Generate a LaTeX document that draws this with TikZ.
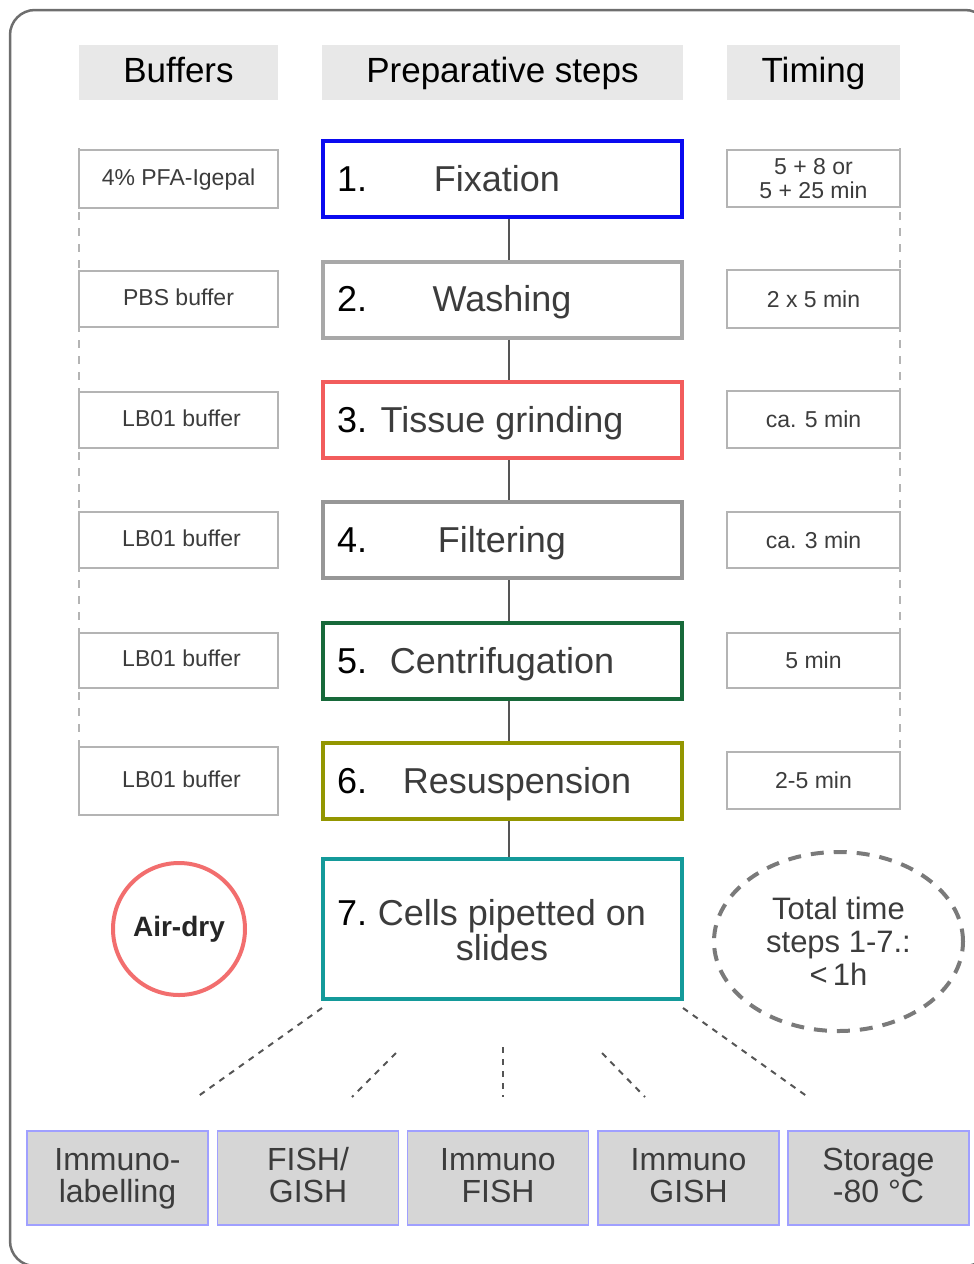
\documentclass[tikz,border=0pt]{standalone}
\usepackage{fontspec}
\setmainfont{Liberation Sans}
\usetikzlibrary{shapes.geometric}
\definecolor{framegray}{HTML}{6E6E6E}
\definecolor{hdrfill}{HTML}{E8E8E8}
\definecolor{bufline}{HTML}{B4B4B4}
\definecolor{cblue}{HTML}{0A0AF0}
\definecolor{cgrayA}{HTML}{A8A8A8}
\definecolor{cred}{HTML}{F25C5C}
\definecolor{cgrayB}{HTML}{979797}
\definecolor{cgreen}{HTML}{17693A}
\definecolor{colive}{HTML}{939600}
\definecolor{cteal}{HTML}{149A9A}
\definecolor{airred}{HTML}{F26E6E}
\definecolor{ellgray}{HTML}{7A7A7A}
\definecolor{outfill}{HTML}{D6D6D6}
\definecolor{outline}{HTML}{A0A0FF}
\definecolor{txtgray}{HTML}{3C3C3C}
\definecolor{conngray}{HTML}{555555}
\begin{document}
\begin{tikzpicture}[x=1pt,y=-1pt,
  frame/.style={draw=framegray,line width=2.5pt,rounded corners=25pt},
  hdr/.style={fill=hdrfill,minimum height=55pt,inner sep=0pt,text height=26pt,text depth=7pt,font=\fontsize{35}{40}\selectfont,text=black},
  bufbox/.style={draw=bufline,line width=1.5pt,minimum width=199pt,inner sep=0pt,text height=17pt,text depth=5pt,font=\fontsize{23}{25}\selectfont,text=txtgray},
  timebox/.style={draw=bufline,line width=1.5pt,minimum width=173pt,inner sep=0pt,font=\fontsize{23}{24}\selectfont,text=txtgray,align=center},
  stepbox/.style={draw=#1,line width=4pt,minimum width=359pt,minimum height=76pt,inner sep=0pt},
  steptext/.style={font=\fontsize{36}{36}\selectfont,text=txtgray,inner sep=0pt,anchor=base},
  stepnum/.style={font=\fontsize{36}{36}\selectfont,text=black,inner sep=0pt,anchor=base west},
  conn/.style={draw=conngray,line width=2.5pt},
  sidedash/.style={draw=bufline,line width=1.2pt,dash pattern=on 8pt off 8pt},
  dashline/.style={draw=conngray,line width=2pt,dash pattern=on 6pt off 6pt},
  outbox/.style={fill=outfill,draw=outline,line width=1.5pt,minimum width=181pt,minimum height=94pt,inner sep=0pt,align=center,font=\fontsize{32}{32}\selectfont,text=txtgray}
]
\useasboundingbox (0,0) rectangle (974,1264);
\draw[frame] (10,10) rectangle (990,1266);

% headers
\node[hdr,minimum width=199pt] (hb) at (178.5,72.5) {Buffers};
\node[hdr,minimum width=361pt] (hp) at (502.5,72.5) {Preparative steps};
\node[hdr,minimum width=173pt] (ht) at (813.5,72.5) {Timing};

% side dashed lines
\coordinate (la) at (79,148);
\coordinate (lb) at (79,815);
\coordinate (ra) at (900,148);
\coordinate (rb) at (900,810);
\draw[sidedash] (la) -- (lb);
\draw[sidedash] (ra) -- (rb);

% buffers
\node[bufbox,minimum height=58pt,fill=white] (b1) at (178.5,179) {4\% PFA-Igepal};
\node[bufbox,minimum height=56pt,fill=white] (b2) at (178.5,299) {PBS buffer};
\node[bufbox,minimum height=56pt,fill=white] (b3) at (178.5,420) {\hspace*{6pt}LB01 buffer};
\node[bufbox,minimum height=56pt,fill=white] (b4) at (178.5,540) {\hspace*{6pt}LB01 buffer};
\node[bufbox,minimum height=55pt,fill=white] (b5) at (178.5,660.5) {\hspace*{6pt}LB01 buffer};
\node[bufbox,minimum height=68pt,fill=white] (b6) at (178.5,781) {\hspace*{6pt}LB01 buffer};

% timing
\node[timebox,minimum height=57pt,fill=white] (tm1) at (813.5,178.5) {5 + 8 or\\5 + 25 min};
\node[timebox,minimum height=58pt,fill=white] (tm2) at (813.5,299) {2 x 5 min};
\node[timebox,minimum height=57pt,fill=white] (tm3) at (813.5,419.5) {ca. 5 min};
\node[timebox,minimum height=56pt,fill=white] (tm4) at (813.5,540) {ca. 3 min};
\node[timebox,minimum height=55pt,fill=white] (tm5) at (813.5,660.5) {5 min};
\node[timebox,minimum height=57pt,fill=white] (tm6) at (813.5,780.5) {2-5 min};

% step boxes
\node[stepbox=cblue] (s1) at (502.5,179) {};
\node[stepbox=cgrayA] (s2) at (502.5,299.5) {};
\node[stepbox=cred] (s3) at (502.5,420) {};
\node[stepbox=cgrayB] (s4) at (502.5,540) {};
\node[stepbox=cgreen] (s5) at (502.5,661) {};
\node[stepbox=colive] (s6) at (502.5,781) {};
\node[stepbox=cteal,minimum height=140pt] (s7) at (502.5,929) {};

% step texts
\node[stepnum] (n1) at (337,191) {1.};
\node[steptext] (x1) at (497,191) {Fixation};
\node[stepnum] (n2) at (337,311.5) {2.};
\node[steptext] (x2) at (502,311.5) {Washing};
\node[stepnum] (n3) at (337,432) {3.};
\node[steptext] (x3) at (502,432) {Tissue grinding};
\node[stepnum] (n4) at (337,552) {4.};
\node[steptext] (x4) at (502,552) {Filtering};
\node[stepnum] (n5) at (337,673) {5.};
\node[steptext] (x5) at (502,673) {Centrifugation};
\node[stepnum] (n6) at (337,793) {6.};
\node[steptext] (x6) at (517,793) {Resuspension};
\node[stepnum] (n7) at (337,925) {7.};
\node[steptext] (x7a) at (512,925) {Cells pipetted on};
\node[steptext] (x7b) at (502,960) {slides};

% connectors between steps
\draw[conn] ([xshift=6.5pt]s1.south) -- ([xshift=6.5pt]s2.north);
\draw[conn] ([xshift=6.5pt]s2.south) -- ([xshift=6.5pt]s3.north);
\draw[conn] ([xshift=6.5pt]s3.south) -- ([xshift=6.5pt]s4.north);
\draw[conn] ([xshift=6.5pt]s4.south) -- ([xshift=6.5pt]s5.north);
\draw[conn] ([xshift=6.5pt]s5.south) -- ([xshift=6.5pt]s6.north);
\draw[conn] ([xshift=6.5pt]s6.south) -- ([xshift=6.5pt]s7.north);

% air-dry and total time
\node[circle,draw=airred,line width=4pt,minimum size=132pt,inner sep=0pt,font=\bfseries\fontsize{28}{30}\selectfont,text=black!85] (air) at (179,929) {Air-dry};
\node[ellipse,draw=ellgray,line width=4pt,dash pattern=on 13pt off 10pt,minimum width=249pt,minimum height=179pt,inner sep=0pt,align=center,font=\fontsize{31}{33}\selectfont,text=txtgray] (tot) at (838.5,941.5) {Total time\\steps 1-7.:\\\textless\,1h};

% dashed fan lines
\coordinate (d1a) at (322,1008);
\coordinate (d1b) at (197,1097);
\coordinate (d2a) at (396,1053);
\coordinate (d2b) at (352,1097);
\coordinate (d3a) at (503,1047);
\coordinate (d3b) at (503,1097);
\coordinate (d4a) at (602,1053);
\coordinate (d4b) at (645,1097);
\coordinate (d5a) at (683,1008);
\coordinate (d5b) at (808,1097);
\draw[dashline] (d1a) -- (d1b);
\draw[dashline] (d2a) -- (d2b);
\draw[dashline] (d3a) -- (d3b);
\draw[dashline] (d4a) -- (d4b);
\draw[dashline] (d5a) -- (d5b);

% output boxes
\node[outbox] (o1) at (117.5,1178) {\vphantom{I/gy}Immuno-\\\vphantom{I/gy}labelling};
\node[outbox] (o2) at (308,1178) {\vphantom{I/gy}FISH/\\\vphantom{I/gy}GISH};
\node[outbox] (o3) at (498,1178) {\vphantom{I/gy}Immuno\\\vphantom{I/gy}FISH};
\node[outbox] (o4) at (688.5,1178) {\vphantom{I/gy}Immuno\\\vphantom{I/gy}GISH};
\node[outbox] (o5) at (878.5,1178) {\vphantom{I/gy}Storage\\\vphantom{I/gy}-80 °C};
\end{tikzpicture}
\end{document}
